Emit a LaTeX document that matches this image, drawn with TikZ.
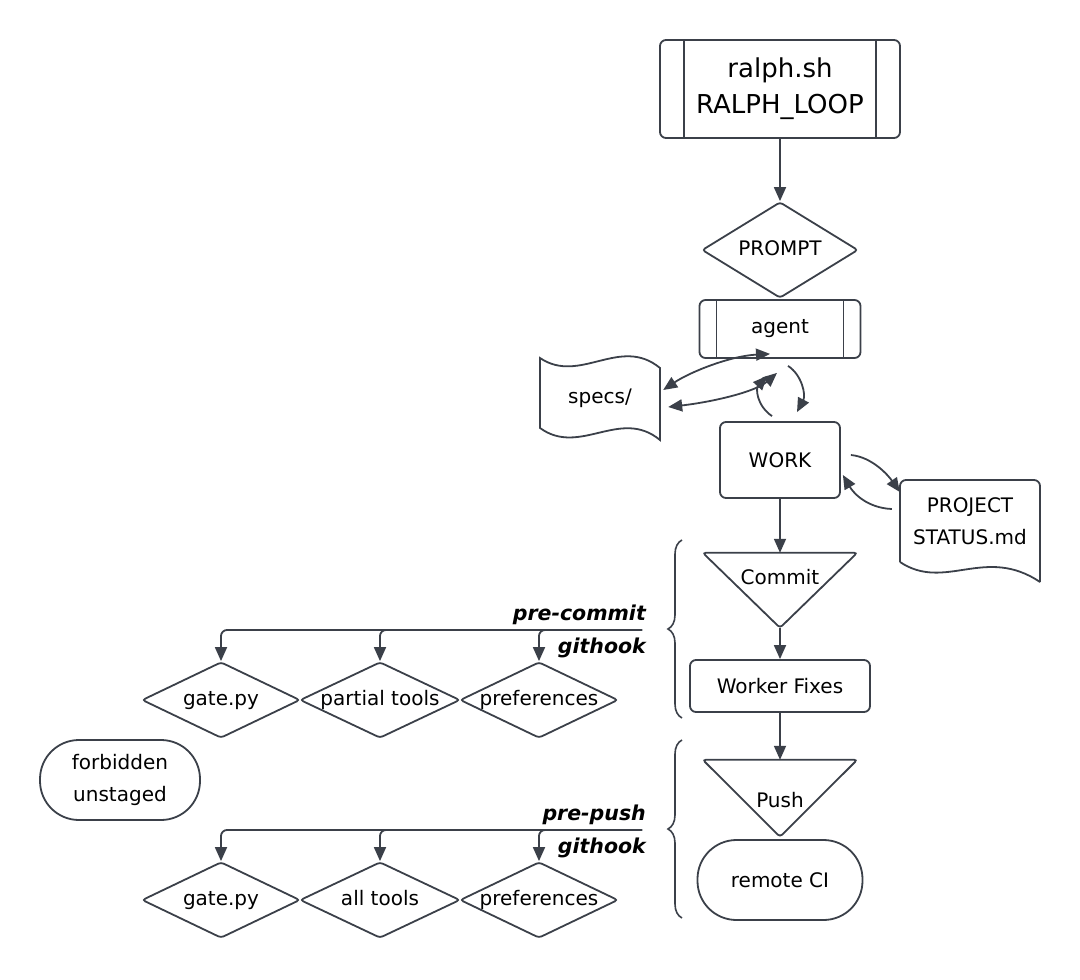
\documentclass[tikz,border=0pt]{standalone}
\usepackage{fontspec}
\setmainfont{DejaVu Sans}
\usetikzlibrary{shapes.geometric,arrows.meta,decorations.pathreplacing,calc}

\definecolor{edgegray}{HTML}{3B4049}

\tikzset{
  base/.style={font=\fontsize{20}{32}\selectfont, text=black, align=center, inner sep=0pt},
  box/.style={base, draw=edgegray, line width=1.8pt, rounded corners=6pt},
  subroutine/.style={box, path picture={
      \draw[edgegray, line width=1.8pt] ([xshift=#1]path picture bounding box.north west) -- ([xshift=#1]path picture bounding box.south west);
      \draw[edgegray, line width=1.8pt] ([xshift=-#1]path picture bounding box.north east) -- ([xshift=-#1]path picture bounding box.south east);}},
  decision/.style={base, inner sep=-2pt, text height=15pt, text depth=4pt, draw=edgegray, line width=1.8pt, diamond, aspect=2, rounded corners=3pt},
  terminal/.style={box, rounded corners=39pt},
  outline/.style={draw=edgegray, line width=1.8pt},
  flow/.style={draw=edgegray, line width=1.8pt, -{Triangle[length=14pt,width=12pt]}},
  both/.style={flow, {Triangle[length=14pt,width=12pt]}-{Triangle[length=14pt,width=12pt]}},
  hook/.style={base, font=\fontsize{20.5}{24}\selectfont\bfseries\itshape},
  hookbrace/.style={draw=edgegray, line width=1.6pt, decorate, decoration={brace, amplitude=14pt}}
}

\begin{document}
\begin{tikzpicture}[x=1pt,y=-1pt]
\useasboundingbox (0,0) rectangle (1080,980);

% main column
\node[subroutine=24pt, minimum width=240pt, minimum height=98pt, font=\fontsize{26}{36}\selectfont] (ralph) at (780,89) {ralph.sh\\RALPH\_LOOP};
\node[decision, minimum width=156pt, minimum height=96pt] (prompt) at (780,250) {PROMPT};
\node[subroutine=17pt, minimum width=161pt, minimum height=58pt] (agent) at (780,329) {agent};
\node[box, minimum width=120pt, minimum height=76pt] (work) at (780,460) {WORK};
\node[base, minimum width=154pt, minimum height=48pt] (commit) at (780,577) {Commit};
\draw[outline, rounded corners=3pt] (commit.north west) -- (commit.north east) -- ($(commit.north)+(0,75)$) -- cycle;
\coordinate (committip) at ($(commit.north)+(0,75)$);
\node[box, minimum width=180pt, minimum height=52pt] (fixes) at (780,686) {Worker Fixes};
\node[base, minimum width=154pt, minimum height=80pt] (push) at (780,800) {Push};
\draw[outline, rounded corners=3pt] (push.north west) -- (push.north east) -- ($(push.north)+(0,77)$) -- cycle;
\node[terminal, minimum width=165pt, minimum height=80pt] (remote) at (780,880) {remote CI};

% documents
\node[base, minimum width=120pt, minimum height=70pt] (specs) at (600,398) {specs/};
\draw[outline] (540,358) .. controls (580,385) and (620,335) .. (660,368) -- (660,440)
  .. controls (620,407) and (580,457) .. (540,428) -- cycle;
\node[base, minimum width=140pt, minimum height=100pt] (status) at (970,521) {PROJECT\\STATUS.md};
\draw[outline, rounded corners=6pt] (900,562) -- (900,480) -- (1040,480) -- (1040,582);
\draw[outline] (900,562) .. controls (945,592) and (985,545) .. (1040,582);

\node[terminal, minimum width=160pt, minimum height=80pt] (forbidden) at (120,780) {forbidden\\unstaged};

% connectors
\draw[flow] (ralph) -- (prompt);
\draw[both] ($(specs.east)+(3,-8)$) .. controls (690,372) and (730,356) .. ($(agent.south)+(-10,-5)$);
\draw[both] ($(specs.east)+(8,9)$) .. controls (712,402) and (755,392) .. ($(agent.south)+(-3,14)$);
\draw[flow] ($(work.north)+(-8,-5)$) .. controls (756,405) and (756,388) .. ($(agent.south)+(-13,17)$);
\draw[flow] ($(agent.south)+(8,7)$) .. controls (802,375) and (806,395) .. ($(work.north)+(17,-9)$);
\draw[flow] ($(work.east)+(10,-5)$) .. controls (872,457) and (888,475) .. ($(status.west)+(0,-29)$);
\draw[flow] ($(status.west)+(-8,-12)$) .. controls (868,508) and (854,494) .. ($(work.east)+(2,15)$);
\draw[flow] (work.south) -- (commit.north);
\draw[flow] (committip) -- (fixes.north);
\draw[flow] (fixes.south) -- (push.north);

% pre-commit githook
\coordinate (precommit) at (642,630);
\node[hook, anchor=east] (precommitlabel) at (646,615) {pre-commit};
\node[hook, anchor=east] (githookA) at (646,648) {githook};
\node[decision, minimum width=158pt, minimum height=76pt] (gateA) at (221,700) {gate.py};
\node[decision, minimum width=160pt, minimum height=76pt] (partial) at (380,700) {partial tools};
\node[decision, minimum width=158pt, minimum height=76pt] (prefsA) at (539,700) {preferences};
\draw[flow, rounded corners=6pt] (precommit) -| (gateA.north);
\draw[flow, rounded corners=6pt] (precommit) -| (partial.north);
\draw[flow, rounded corners=6pt] (precommit) -| (prefsA.north);
\draw[hookbrace] (682,718) -- (682,540);

% pre-push githook
\coordinate (prepush) at (642,830);
\node[hook, anchor=east] (prepushlabel) at (646,815) {pre-push};
\node[hook, anchor=east] (githookB) at (646,848) {githook};
\node[decision, minimum width=158pt, minimum height=76pt] (gateB) at (221,900) {gate.py};
\node[decision, minimum width=160pt, minimum height=76pt] (alltools) at (380,900) {all tools};
\node[decision, minimum width=158pt, minimum height=76pt] (prefsB) at (539,900) {preferences};
\draw[flow, rounded corners=6pt] (prepush) -| (gateB.north);
\draw[flow, rounded corners=6pt] (prepush) -| (alltools.north);
\draw[flow, rounded corners=6pt] (prepush) -| (prefsB.north);
\draw[hookbrace] (682,918) -- (682,740);
\end{tikzpicture}
\end{document}
